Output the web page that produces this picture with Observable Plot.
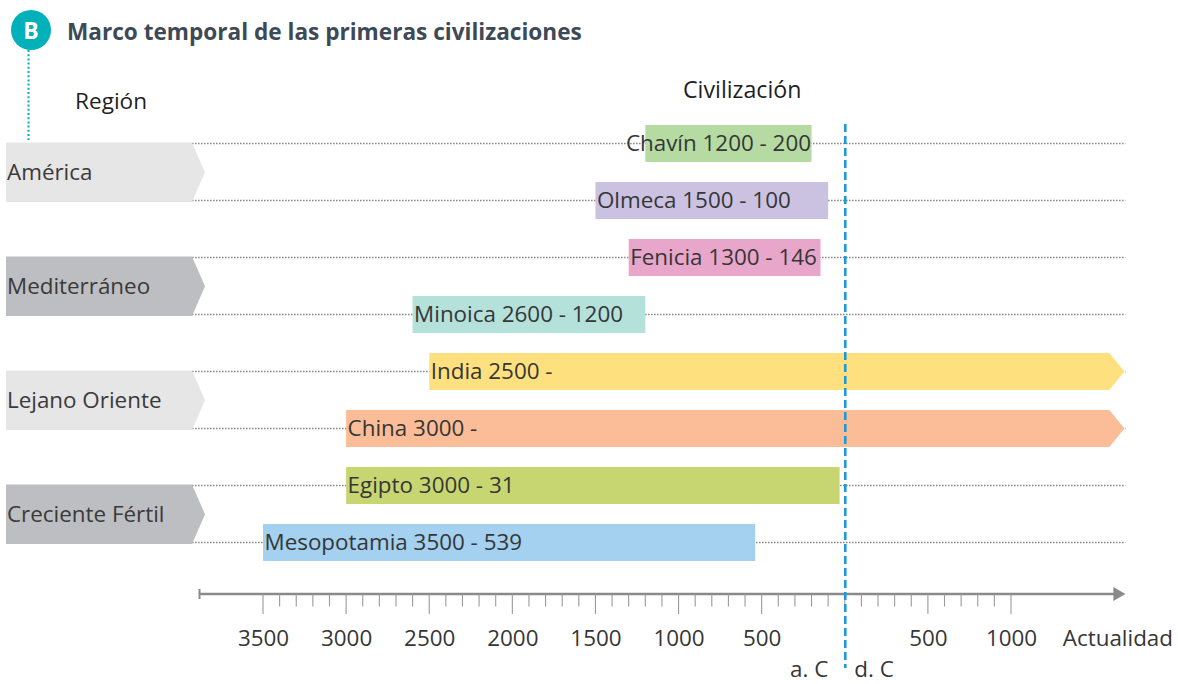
<!DOCTYPE html>
<html>
<head>
<meta charset="utf-8">
<script src="https://cdn.jsdelivr.net/npm/d3@7"></script>
<script src="https://cdn.jsdelivr.net/npm/@observablehq/plot@0.6"></script>
<style>
  html, body { margin: 0; padding: 0; background: #ffffff; }
  #chart svg { display: block; }
</style>
</head>
<body>
<div id="chart"></div>
<script>
// ---- Data ----
const civilizations = ["Chavín", "Olmeca", "Fenicia", "Minoica", "India", "China", "Egipto", "Mesopotamia"];
const civRegion = ["América", "América", "Mediterráneo", "Mediterráneo", "Lejano Oriente", "Lejano Oriente", "Creciente Fértil", "Creciente Fértil"];
const civStart = [-1200, -1500, -1300, -2600, -2500, -3000, -3000, -3500];
const civEnd = [-200, -100, -146, -1200, null, null, -31, -539]; // null = hasta la actualidad
const civLabel = ["Chavín 1200 - 200", "Olmeca 1500 - 100", "Fenicia 1300 - 146", "Minoica 2600 - 1200", "India 2500 -", "China 3000 -", "Egipto 3000 - 31", "Mesopotamia 3500 - 539"];
const civColor = ["#b5dba3", "#cbc2e2", "#e8a6ca", "#b4e1da", "#fee07f", "#fabd98", "#c8d672", "#a3d1ef"];

const regions = ["América", "Mediterráneo", "Lejano Oriente", "Creciente Fértil"];
const regionColor = ["#e6e6e7", "#bdbec1", "#e6e6e7", "#bdbec1"];

const majorTicks = [-3500, -3000, -2500, -2000, -1500, -1000, -500, 500, 1000];
const majorTickLabels = ["3500", "3000", "2500", "2000", "1500", "1000", "500", "500", "1000"];
const minorTicks = [-3400, -3300, -3200, -3100, -2900, -2800, -2700, -2600, -2400, -2300, -2200, -2100,
  -1900, -1800, -1700, -1600, -1400, -1300, -1200, -1100, -900, -800, -700, -600,
  -400, -300, -200, -100, 0, 100, 200, 300, 400, 600, 700, 800, 900];
const presentYear = 1640;
const presentLabel = "Actualidad";
const eraLabels = ["a. C", "d. C"];

const title = "Marco temporal de las primeras civilizaciones";
const badge = "B";
const regionHeader = "Región";
const civHeader = "Civilización";

const rows = civilizations.map((name, i) => ({
  name, region: civRegion[i], start: civStart[i], end: civEnd[i], label: civLabel[i], color: civColor[i]
}));

// ---- Styling ----
const FONT = "'Open Sans', 'Noto Sans', sans-serif";
const TEXT = "#363636";
const FS = 22.4;

function bandwidth(s) {
  return typeof s.bandwidth === "function" ? s.bandwidth() : (s.bandwidth || 0);
}

// Header decorations
const headerMark = () => {
  const g = d3.create("svg:g").attr("font-family", FONT).attr("text-anchor", "start");
  g.append("line").attr("x1", 28.5).attr("x2", 28.5).attr("y1", 50).attr("y2", 140)
    .attr("stroke", "#16b2bd").attr("stroke-width", 2.2).attr("stroke-dasharray", "2,2.2");
  g.append("circle").attr("cx", 31).attr("cy", 30).attr("r", 20).attr("fill", "#00b1ba");
  g.append("text").attr("x", 31).attr("y", 38.5).attr("text-anchor", "middle")
    .attr("fill", "#fff").attr("font-weight", 700).attr("font-size", 23).text(badge);
  g.append("text").attr("x", 67).attr("y", 40).attr("fill", "#3d4a56")
    .attr("font-weight", 700).attr("font-size", 22.6).text(title);
  g.append("text").attr("x", 75).attr("y", 109).attr("fill", "#1f1f1f")
    .attr("font-size", 22.6).text(regionHeader);
  g.append("text").attr("x", 683).attr("y", 98).attr("fill", "#1f1f1f")
    .attr("font-size", 23.2).text(civHeader);
  return g.node();
};

// Region chevrons + dotted row lines
const regionMark = (index, {x, y}) => {
  const bw = bandwidth(y);
  const cy = (n) => y(n) + bw / 2;
  const g = d3.create("svg:g").attr("font-family", FONT).attr("text-anchor", "start");
  for (const n of civilizations) {
    g.append("line").attr("x1", 192).attr("x2", x(presentYear) + 8)
      .attr("y1", cy(n)).attr("y2", cy(n))
      .attr("stroke", "#8c8c8c").attr("stroke-width", 1.6).attr("stroke-dasharray", "1.6,1.4");
  }
  regions.forEach((r, i) => {
    const members = civilizations.filter((c, j) => civRegion[j] === r);
    const top = cy(members[0]) - 1;
    const bot = cy(members[members.length - 1]) + 1.5;
    const mid = (top + bot) / 2;
    g.append("path")
      .attr("d", `M6,${top}H192L205,${mid}L192,${bot}H6Z`)
      .attr("fill", regionColor[i]);
    g.append("text").attr("x", 7).attr("y", mid + 8).attr("fill", "#3a3a3a")
      .attr("font-size", FS).text(r);
  });
  return g.node();
};

// Ongoing civilizations (arrows to the present)
const ongoingMark = (index, {x, y}) => {
  const bw = bandwidth(y);
  const g = d3.create("svg:g");
  rows.filter(d => d.end == null).forEach(d => {
    const top = y(d.name), bot = y(d.name) + bw, mid = (top + bot) / 2;
    const x0 = x(d.start), xe = x(presentYear) - 8, tip = x(presentYear) + 7;
    g.append("path").attr("d", `M${x0},${top}H${xe}L${tip},${mid}L${xe},${bot}H${x0}Z`)
      .attr("fill", d.color);
  });
  return g.node();
};

// Time axis
const axisMark = (index, {x}) => {
  const g = d3.create("svg:g");
  const ay = 594;
  const end = x(presentYear) + 8;
  g.append("line").attr("x1", 199).attr("x2", end - 4).attr("y1", ay).attr("y2", ay)
    .attr("stroke", "#8a8a8a").attr("stroke-width", 2.6);
  g.append("line").attr("x1", 199.5).attr("x2", 199.5).attr("y1", ay - 5).attr("y2", ay + 5)
    .attr("stroke", "#8a8a8a").attr("stroke-width", 2);
  g.append("path").attr("d", `M${end - 12},${ay - 7}L${end},${ay}L${end - 12},${ay + 7}Z`)
    .attr("fill", "#8a8a8a");
  for (const t of minorTicks) {
    g.append("line").attr("x1", x(t)).attr("x2", x(t)).attr("y1", ay).attr("y2", 606.5)
      .attr("stroke", "#9a9a9a").attr("stroke-width", 1.1);
  }
  for (const t of majorTicks) {
    g.append("line").attr("x1", x(t)).attr("x2", x(t)).attr("y1", ay).attr("y2", 614)
      .attr("stroke", "#9a9a9a").attr("stroke-width", 1.1);
  }
  return g.node();
};

const fits = rows.filter(d => d.end == null || d.end - d.start > 1100);
const tight = rows.filter(d => !(d.end == null || d.end - d.start > 1100));

const chart = Plot.plot({
  width: 1178,
  height: 684,
  margin: 0,
  style: {fontFamily: FONT, background: "#ffffff", overflow: "visible"},
  x: {domain: [-3500, 1000], range: [263, 1011], axis: null},
  y: {type: "band", domain: civilizations, range: [113.5, 572], paddingInner: 0.354, paddingOuter: 0.177, axis: null},
  color: {type: "identity"},
  marks: [
    headerMark,
    regionMark,
    Plot.barX(rows.filter(d => d.end != null), {x1: "start", x2: "end", y: "name", fill: "color"}),
    ongoingMark,
    Plot.text(fits, {x: "start", y: "name", text: "label", textAnchor: "start", dx: 1, fill: TEXT, fontSize: FS}),
    Plot.text(tight, {x: "end", y: "name", text: "label", textAnchor: "end", dx: -1, fill: TEXT, fontSize: FS}),
    axisMark,
    Plot.text(majorTicks, {x: d => d, text: (d, i) => majorTickLabels[i], frameAnchor: "bottom", lineAnchor: "bottom", dy: -39, fill: TEXT, fontSize: FS}),
    Plot.text([presentYear], {x: d => d, text: () => presentLabel, frameAnchor: "bottom", lineAnchor: "bottom", dy: -39, fill: TEXT, fontSize: FS}),
    Plot.ruleX([0], {x: d => d, insetTop: 124, insetBottom: 16, stroke: "#1d9ad6", strokeWidth: 2.6, strokeDasharray: "8,4"}),
    Plot.text([0], {x: d => d, text: () => eraLabels[0], frameAnchor: "bottom", lineAnchor: "bottom", dy: -8, dx: -17, textAnchor: "end", fill: TEXT, fontSize: FS}),
    Plot.text([0], {x: d => d, text: () => eraLabels[1], frameAnchor: "bottom", lineAnchor: "bottom", dy: -8, dx: 9, textAnchor: "start", fill: TEXT, fontSize: FS})
  ]
});

document.getElementById("chart").appendChild(chart);
</script>
</body>
</html>
